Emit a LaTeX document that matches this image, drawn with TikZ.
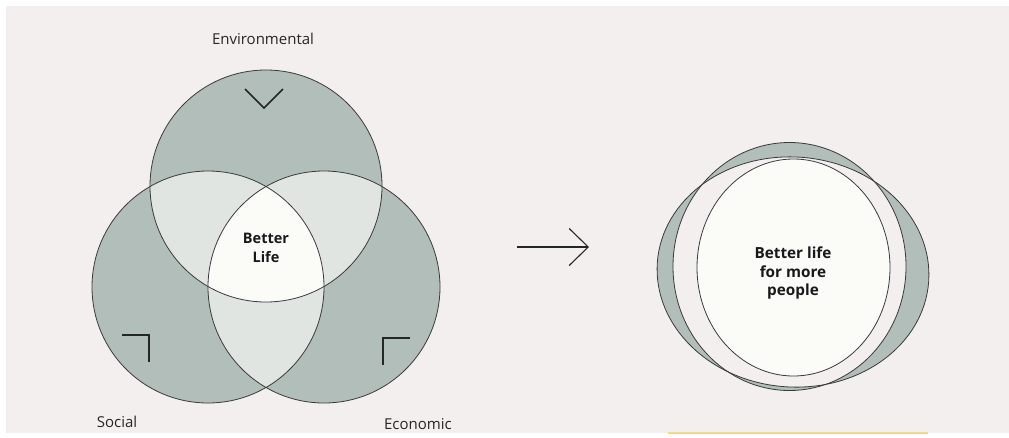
\documentclass[tikz,border=0pt]{standalone}
\usepackage{fontspec}
\setmainfont{Open Sans}
\usetikzlibrary{arrows.meta}

\definecolor{paper}{HTML}{F3EFEE}
\definecolor{sage}{HTML}{B2BEB9}
\definecolor{sagelight}{HTML}{E0E5E1}
\definecolor{core}{HTML}{FBFBF7}
\definecolor{edgegray}{HTML}{3A3A3A}
\definecolor{stripe}{HTML}{F2D98A}

\begin{document}
\begin{tikzpicture}[x=1pt,y=-1pt,
    pillar label/.style={font=\fontsize{15pt}{18pt}\selectfont,text=black!85},
    core text/.style={font=\fontsize{14.5pt}{19pt}\selectfont\bfseries,align=center,text=black!90},
    corner mark/.style={line width=1.6pt,draw=black!85},
    rim/.style={draw=edgegray,line width=0.8pt}]
    \pgfmathsetmacro{\venradius}{116}
    \useasboundingbox (0,0) rectangle (1009,437);
    \fill[white] (0,0) rectangle (1009,437);
    \fill[paper] (6,6) rectangle (1009,433);
    % three pillars
    \coordinate (env) at (266,186);
    \coordinate (soc) at (208,287);
    \coordinate (eco) at (324,287);
    \foreach \c in {env,soc,eco}
        \fill[sage] (\c) circle[radius=\venradius pt];
    \begin{scope}
        \clip (env) circle[radius=\venradius pt];
        \fill[sagelight] (soc) circle[radius=\venradius pt];
        \fill[sagelight] (eco) circle[radius=\venradius pt];
    \end{scope}
    \begin{scope}
        \clip (soc) circle[radius=\venradius pt];
        \fill[sagelight] (eco) circle[radius=\venradius pt];
    \end{scope}
    \begin{scope}
        \clip (env) circle[radius=\venradius pt];
        \clip (soc) circle[radius=\venradius pt];
        \fill[core] (eco) circle[radius=\venradius pt];
    \end{scope}
    \foreach \c in {env,soc,eco}
        \draw[rim] (\c) circle[radius=\venradius pt];
    \draw[corner mark] (245,89) -- (264,108) -- (283,89);
    \draw[corner mark] (122,335) -- (149,335) -- (149,362);
    \draw[corner mark] (383,365) -- (383,338) -- (410,338);
    \node[pillar label] (envlabel) at (263,39) {Environmental};
    \node[pillar label] (soclabel) at (117,422) {Social};
    \node[pillar label] (ecolabel) at (418,424) {Economic};
    \node[core text] (better) at (266,248) {Better\\Life};
    % arrow
    \coordinate (arrowstart) at (517,247);
    \coordinate (arrowend) at (589,247);
    \draw[line width=1.1pt,draw=black!85,-{Straight Barb[length=19pt,width=37pt]}] (arrowstart) -- (arrowend);
    % more people
    \coordinate (wide) at (793,272);
    \coordinate (tall) at (789.5,266.5);
    \coordinate (heart) at (793.5,267.5);
    \fill[sage,even odd rule] (wide) ellipse[x radius=136pt,y radius=115pt,rotate=-4]
        (tall) ellipse[x radius=116.5pt,y radius=124pt];
    \draw[rim] (wide) ellipse[x radius=136pt,y radius=115pt,rotate=-4];
    \draw[rim] (tall) ellipse[x radius=116.5pt,y radius=124pt];
    \draw[rim,fill=core] (heart) ellipse[x radius=96.5pt,y radius=108.5pt];
    \node[core text,font=\fontsize{15.3pt}{18.8pt}\selectfont\bfseries] (morepeople) at (793,273) {Better life\\for more\\people};
    \draw[stripe,line width=1.5pt] (668,433) -- (928,433);
\end{tikzpicture}
\end{document}
